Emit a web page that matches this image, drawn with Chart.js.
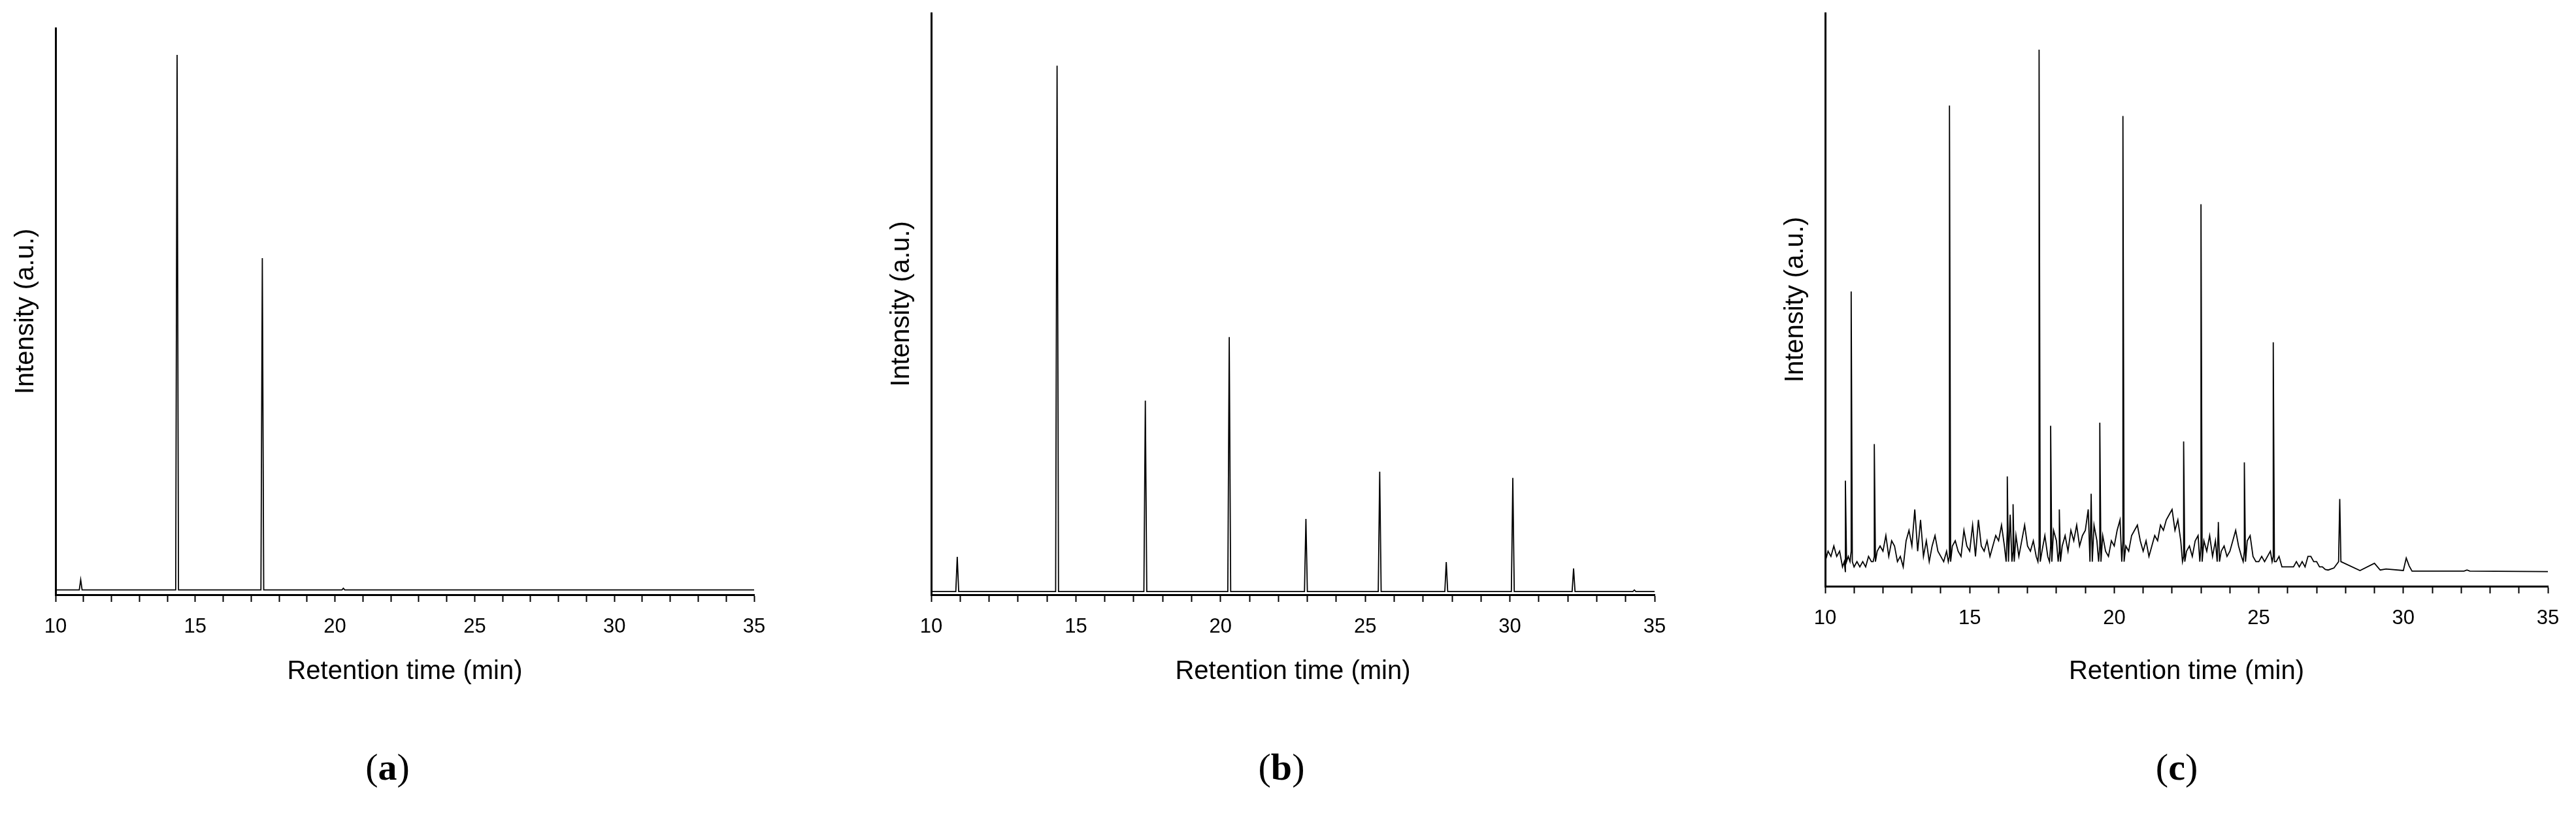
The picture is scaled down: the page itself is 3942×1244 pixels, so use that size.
<!DOCTYPE html>
<html><head><meta charset="utf-8">
<script src="https://cdn.jsdelivr.net/npm/chart.js@4"></script>
<style>
body{margin:0;width:3942px;height:1244px;background:#fff;position:relative;overflow:hidden}
canvas{position:absolute;top:0}
.lab{position:absolute;top:1140px;font-family:"Liberation Serif",serif;font-size:58px;transform:translateX(-50%)}
.lab b{font-weight:bold}
</style></head><body>
<canvas id="ca" style="left:0px"></canvas>
<canvas id="cb" style="left:1340px"></canvas>
<canvas id="cc" style="left:2708px"></canvas>
<div class="lab" style="left:593px">(<b>a</b>)</div>
<div class="lab" style="left:1961px">(<b>b</b>)</div>
<div class="lab" style="left:3331px">(<b>c</b>)</div>
<script>
// Panel (a) peaks
const aPeakTimes = [10.9, 14.35, 17.4, 20.3];
const aPeakHeights = [1.9, 100, 62, 0.3];
// Panel (b) peaks
const bPeakTimes = [10.9, 14.35, 17.4, 20.3, 22.95, 25.5, 27.8, 30.1, 32.2, 34.3];
const bPeakHeights = [6.6, 100, 36.3, 48.4, 13.8, 22.8, 5.6, 21.6, 4.4, 0.3];
// Panel (c) major peaks
const cPeakTimes = [10.7, 10.9, 11.7, 14.3, 16.3, 16.5, 17.4, 17.8, 18.1, 19.2, 19.5, 20.3, 22.4, 23.0, 23.6, 24.5, 25.5, 27.8];
const cPeakHeights = [17.5, 53.7, 24.5, 89.3, 18.3, 13, 100, 28, 12, 15, 28.6, 87.3, 25, 70.4, 9.6, 21, 44, 14];
// Panel (c) background signal, 10.0 to 27.4 min every 0.1 min
const cNoiseStart = 10.0;
const cNoise = [
2,4,3,5,3,4,1,0,3,4,
1,2,1,2,1,3,2,3,4,5,
4,7,3,6,5,2,3,1,6,8,
5,12,4,10,3,6,2,5,7,4,
3,2,4,3,5,6,4,3,8,5,
4,9,3,10,5,4,6,3,5,7,
6,9,5,8,11,4,7,3,6,9,
5,4,6,3,5,4,7,3,5,8,
6,4,5,7,4,8,6,9,5,7,
8,12,14,9,6,5,7,4,3,6,
5,8,10,6,5,4,7,8,9,6,
4,6,3,5,7,6,9,8,10,11,
12,8,10,6,3,4,5,3,6,7,
5,6,4,7,3,6,9,4,5,3,
4,6,8,5,3,4,6,7,3,2,
2,3,2,3,4,3,2,3,1,1,
1,1,1,2,1,2,1,3,3,2,
2,1,1,0.5,0.4];
const cTailTimes = [27.6, 28.5, 29.0, 29.2, 29.4, 30.0, 30.1, 30.2, 30.3, 32.1, 32.2, 32.3, 35.0];
const cTailValues = [0.8, 0.3, 1.7, 0.4, 0.6, 0.3, 2.7, 1.2, 0.2, 0.2, 0.4, 0.2, 0.1];
const xTicks = [10, 15, 20, 25, 30, 35];

function peaksToPoints(times, heights, base, hw, end){
  const pts=[{x:10,y:base}];
  times.forEach((t,i)=>{pts.push({x:t-hw,y:base},{x:t,y:heights[i]},{x:t+hw,y:base});});
  pts.push({x:end,y:base});
  return pts;
}
function cPoints(){
  const pts=[];
  cNoise.forEach((v,i)=>pts.push({x:+(cNoiseStart+i*0.1).toFixed(2),y:v}));
  cTailTimes.forEach((t,i)=>pts.push({x:t,y:cTailValues[i]}));
  cPeakTimes.forEach((t,i)=>{pts.push({x:t-0.04,y:2},{x:t,y:cPeakHeights[i]},{x:t+0.04,y:2});});
  pts.sort((a,b)=>a.x-b.x);
  // remove noise points that fall inside peak windows
  return pts.filter(p=>!cPeakTimes.some(t=>Math.abs(p.x-t)<0.035 && Math.abs(p.x-t)>0.001) );
}
const F='"Liberation Sans", Arial, sans-serif';
function make(id, data, chartTop, chartW, axisH, ymin, ymax){
  const c=document.getElementById(id);
  c.width=85+chartW+50; c.height=1244;
  new Chart(c,{type:'line',
    data:{datasets:[{data,borderColor:'#000',borderWidth:1.8,pointRadius:0,tension:0,fill:false}]},
    options:{responsive:false,animation:false,devicePixelRatio:1,
      layout:{padding:{top:chartTop,right:50,left:0,bottom:0}},
      plugins:{legend:{display:false},tooltip:{enabled:false}},
      scales:{
        x:{type:'linear',min:10,max:35,
          afterFit:s=>{s.height=axisH;},
          afterBuildTicks:s=>{s.ticks=[];for(let v=10;v<=35;v++)s.ticks.push({value:v});},
          ticks:{autoSkip:false,maxRotation:0,color:'#000',padding:20,font:{family:F,size:31},
            callback:v=>xTicks.includes(v)?String(v):''},
          grid:{drawOnChartArea:false,tickLength:11,tickWidth:2,color:'#000'},
          border:{color:'#000',width:3},
          title:{display:true,text:'Retention time (min)',color:'#000',font:{family:F,size:40},padding:{top:0,bottom:192}}},
        y:{min:ymin,max:ymax,
          afterFit:s=>{s.width=85;},
          ticks:{display:false},
          grid:{display:false},
          border:{color:'#000',width:3},
          title:{display:true,text:'Intensity (a.u.)',color:'#000',font:{family:F,size:40},padding:{top:16,bottom:0}}}
      }}});
}
make('ca', peaksToPoints(aPeakTimes,aPeakHeights,0,0.05,35), 43, 1069, 334, -0.9, 105);
make('cb', peaksToPoints(bPeakTimes,bPeakHeights,0,0.05,35), 20, 1107, 334, -0.6, 110);
make('cc', cPoints(), 20, 1106, 347, -2.7, 107);
</script></body></html>
